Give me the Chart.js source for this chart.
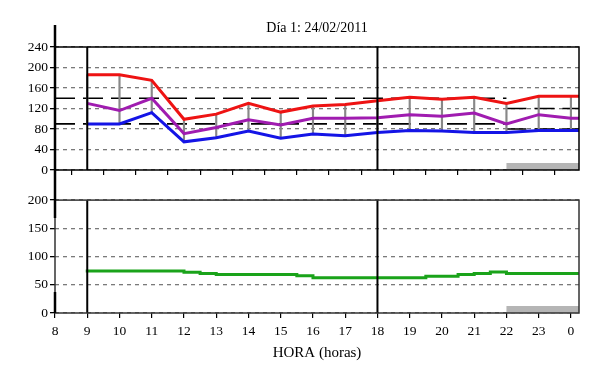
<!DOCTYPE html>
<html>
<head>
<meta charset="utf-8">
<script src="https://cdn.jsdelivr.net/npm/chart.js@4/dist/chart.umd.min.js"></script>
<style>
html, body { margin: 0; padding: 0; background: #fff; }
#wrap { position: relative; width: 600px; height: 383px; }
#top { position: absolute; left: 0; top: 0; }
#bottom { position: absolute; left: 0; top: 190px; }
</style>
</head>
<body>
<div id="wrap">
  <canvas id="top" width="600" height="190"></canvas>
  <canvas id="bottom" width="600" height="193"></canvas>
</div>
<script>
const chartTitle = "Día 1: 24/02/2011";
const xTitle = "HORA (horas)";

// blood pressure readings (mmHg)
const bpHours = [9, 10, 11, 12, 13, 14, 15, 16, 17, 18, 19, 20, 21, 22, 23, 24, 24.25];
const systolic = [186, 186, 175, 99, 109, 130, 113, 125, 128, 135, 142, 138, 142, 130, 144, 144, 144];
const meanBp = [130, 116, 140, 71, 83, 98, 88, 101, 101, 102, 108, 105, 111, 90, 108, 101, 101];
const diastolic = [90, 90, 112, 55, 63, 76, 62, 70, 67, 73, 77, 76, 73, 73, 77, 77, 77];

// heart rate (lpm)
const hrHours = [9, 12, 12.5, 13, 15.5, 16, 19.5, 20.5, 21, 21.5, 22, 24, 24.25];
const heartRate = [77, 74.5, 72, 70, 68, 66, 62.5, 65, 68, 70, 72.5, 70, 70];

// limits
const dayLimitSpan = [8, 22];
const nightLimitSpan = [22, 24.25];
const dayLimits = [140, 90];
const nightLimits = [120, 80];
const nightSpan = [22, 24.25];
const markHours = [9, 18];

const hourTicks = [8, 9, 10, 11, 12, 13, 14, 15, 16, 17, 18, 19, 20, 21, 22, 23, 24];
const bpTicks = [0, 40, 80, 120, 160, 200, 240];
const hrTicks = [0, 50, 100, 150, 200];

const serif = "'Liberation Serif', 'Times New Roman', serif";
Chart.defaults.font.family = serif;
Chart.defaults.color = "#000";

function pts(xs, ys) {
    return xs.map((x, i) => ({ x: x, y: ys[i] }));
}

function limitLine(span, value) {
    return {
        data: [{ x: span[0], y: value }, { x: span[1], y: value }],
        borderColor: "#000",
        borderWidth: 1.6,
        borderDash: [20, 8],
        pointRadius: 0,
        order: 4,
    };
}

function seriesLine(xs, ys, color) {
    return {
        data: pts(xs, ys),
        borderColor: color,
        borderWidth: 3,
        pointRadius: 0,
        tension: 0,
        order: 1,
    };
}

const panelPlugin = {
    id: "panel",
    afterDatasetsDraw(chart, args, opts) {
        const { ctx, chartArea: a, scales: { x } } = chart;
        ctx.save();
        // night period bar
        ctx.fillStyle = "#b5b5b5";
        const x0 = x.getPixelForValue(nightSpan[0]);
        const x1 = x.getPixelForValue(nightSpan[1]);
        ctx.fillRect(x0, a.bottom - 7, x1 - x0, 7);
        // day markers
        ctx.strokeStyle = "#000";
        ctx.lineWidth = 2;
        markHours.forEach(h => {
            const px = x.getPixelForValue(h);
            ctx.beginPath();
            ctx.moveTo(px, a.top);
            ctx.lineTo(px, a.bottom);
            ctx.stroke();
        });
        // frame
        ctx.strokeStyle = opts.frame;
        ctx.lineWidth = 1.5;
        ctx.strokeRect(a.left, a.top, a.right - a.left, a.bottom - a.top);
        // thick left rule
        ctx.strokeStyle = "#000";
        ctx.lineWidth = 2.5;
        opts.rule.forEach(r => {
            ctx.beginPath();
            ctx.moveTo(a.left, r[0]);
            ctx.lineTo(a.left, r[1]);
            ctx.stroke();
        });
        ctx.restore();
    }
};

function xScale(showLabels) {
    return {
        type: "linear",
        min: 8,
        max: 24.25,
        offset: false,
        afterBuildTicks: s => { s.ticks = hourTicks.map(v => ({ value: v })); },
        ticks: {
            padding: 5,
            font: { size: 13.5 },
            color: "#000",
            maxRotation: 0,
            callback: v => showLabels ? String(v % 24) : "",
        },
        grid: { drawOnChartArea: false, drawTicks: true, tickLength: 5, color: "#000", lineWidth: 1.2 },
        border: { display: false },
        title: {
            display: showLabels,
            text: xTitle,
            font: { size: 15 },
            color: "#000",
            padding: { top: 0, bottom: 21 },
        },
        afterFit: s => { s.height = showLabels ? 70 : 20; },
    };
}

function yScale(max, ticks) {
    return {
        min: 0,
        max: max,
        afterBuildTicks: s => { s.ticks = ticks.map(v => ({ value: v })); },
        ticks: { padding: 2, font: { size: 13.5 }, color: "#000" },
        grid: {
            color: "#7a7a7a",
            lineWidth: 1.3,
            tickLength: 5,
            tickColor: "#000",
            tickBorderDash: [0, 0],
        },
        border: { display: false, dash: [4, 4] },
        afterFit: s => { s.width = 50; },
    };
}

const readings = pts(bpHours, bpHours.map((h, i) => [diastolic[i], systolic[i]]))
    .filter(d => Number.isInteger(d.x));

new Chart(document.getElementById("top"), {
    type: "line",
    data: {
        datasets: [
            {
                type: "bar",
                data: readings,
                backgroundColor: "#888",
                barThickness: 1.5,
                grouped: false,
                order: 3,
            },
            limitLine(dayLimitSpan, dayLimits[0]),
            limitLine(dayLimitSpan, dayLimits[1]),
            limitLine(nightLimitSpan, nightLimits[0]),
            limitLine(nightLimitSpan, nightLimits[1]),
            seriesLine(bpHours, diastolic, "#1414e6"),
            seriesLine(bpHours, meanBp, "#a01cb0"),
            seriesLine(bpHours, systolic, "#ee1313"),
        ]
    },
    options: {
        responsive: false,
        animation: false,
        layout: { padding: { left: 5, right: 21, top: 0, bottom: 0 } },
        plugins: {
            legend: { display: false },
            tooltip: { enabled: false },
            title: {
                display: true,
                text: chartTitle,
                fullSize: false,
                color: "#000",
                font: { size: 14, weight: "normal", family: serif },
                padding: { top: 20, bottom: 10.2 },
            },
            panel: { frame: "#000", rule: [[25, 190]] },
        },
        scales: {
            x: xScale(false),
            y: yScale(240, bpTicks),
        }
    },
    plugins: [panelPlugin],
});

new Chart(document.getElementById("bottom"), {
    type: "line",
    data: {
        datasets: [
            {
                data: pts(hrHours, heartRate),
                borderColor: "#1aa31a",
                borderWidth: 3,
                pointRadius: 0,
                stepped: "after",
            },
        ]
    },
    options: {
        responsive: false,
        animation: false,
        layout: { padding: { left: 5, right: 21, top: 5, bottom: 0 } },
        plugins: {
            legend: { display: false },
            tooltip: { enabled: false },
            panel: { frame: "#333", rule: [[0, 28], [102, 123]] },
        },
        scales: {
            x: xScale(true),
            y: yScale(200, hrTicks),
        }
    },
    plugins: [panelPlugin],
});
</script>
</body>
</html>
